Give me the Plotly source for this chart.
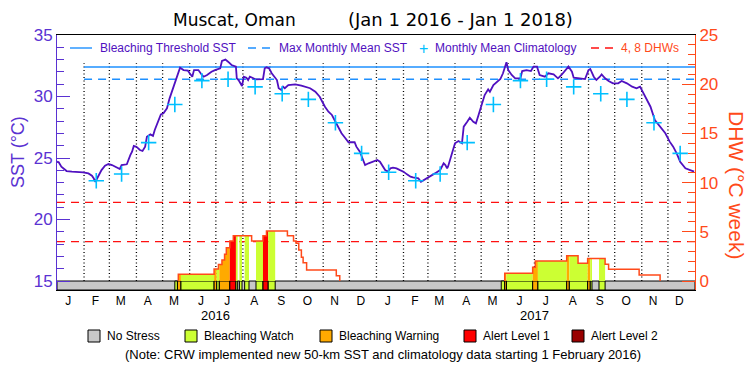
import pandas as pd
import plotly.graph_objects as go

# ---------------- data ----------------
title_place = "Muscat, Oman"
title_period = "(Jan 1 2016 - Jan 1 2018)"
month_letters = ["J", "F", "M", "A", "M", "J", "J", "A", "S", "O", "N", "D"]
year_labels = ["2016", "2017"]

# daily SST (days since 2016-01-01), degC
sst_day = [0, 2, 5, 11, 17, 26, 30, 36, 40, 42,
           44, 47, 51, 55, 59, 63, 68, 72, 74, 80,
           84, 86, 88, 91, 95, 98, 101, 103, 107, 110,
           112, 116, 119, 122, 126, 129, 133, 137, 141, 145,
           150, 152, 155, 157, 162, 166, 168, 172, 177, 181,
           187, 189, 193, 196, 200, 205, 206, 208, 210, 212,
           214, 217, 219, 221, 225, 227, 236, 238, 240, 243,
           246, 250, 252, 254, 257, 259, 261, 265, 273, 280,
           284, 290, 296, 301, 307, 311, 315, 318, 322, 326,
           330, 334, 341, 343, 347, 350, 353, 357, 361, 364,
           367, 370, 372, 376, 379, 382, 385, 389, 393, 397,
           401, 405, 408, 414, 417, 420, 424, 427, 433, 439,
           443, 445, 447, 448, 450, 452, 456, 460, 464, 466,
           470, 473, 477, 480, 483, 487, 490, 494, 496, 500,
           504, 508, 511, 513, 515, 517, 521, 525, 531, 533,
           538, 543, 546, 550, 553, 559, 563, 569, 574, 578,
           584, 586, 590, 592, 599, 605, 609, 611, 615, 618,
           622, 624, 628, 632, 637, 643, 647, 653, 659, 664,
           668, 672, 676, 680, 685, 691, 697, 702, 706, 710,
           714, 720, 725, 730]
sst_val = [24.70, 24.65, 24.29, 23.94, 23.89, 23.89, 23.84, 23.75, 23.56, 23.35,
           23.07, 23.48, 24.02, 24.37, 24.51, 24.43, 24.24, 24.11, 24.43, 24.49,
           25.24, 25.51, 25.98, 25.92, 25.65, 25.57, 25.92, 26.73, 26.92, 26.79,
           27.28, 27.95, 28.55, 28.63, 29.04, 29.85, 30.67, 31.48, 32.34, 32.15,
           32.10, 31.89, 31.61, 32.15, 32.15, 31.75, 31.61, 31.75, 32.02, 32.15,
           32.29, 32.89, 33.00, 32.83, 32.56, 32.43, 31.48, 31.34, 31.07, 30.85,
           31.61, 31.53, 31.34, 31.61, 31.48, 31.40, 31.42, 32.29, 32.37, 32.29,
           31.89, 31.48, 31.34, 30.67, 30.53, 30.80, 30.67, 30.93, 30.99, 30.88,
           30.80, 30.67, 30.39, 29.98, 29.17, 28.76, 28.50, 28.09, 27.55, 27.01,
           26.65, 26.28, 26.28, 25.92, 25.51, 24.97, 24.43, 24.57, 24.70, 24.76,
           24.84, 24.70, 24.43, 24.02, 23.89, 24.16, 24.21, 24.16, 24.02, 23.89,
           23.67, 23.48, 23.43, 23.35, 23.07, 23.21, 23.35, 23.48, 23.75, 24.02,
           24.57, 24.43, 24.16, 24.29, 24.84, 25.24, 26.20, 26.38, 26.20, 27.55,
           27.95, 28.28, 27.95, 27.82, 28.50, 29.45, 30.12, 30.58, 30.39, 30.93,
           31.20, 31.42, 31.89, 32.29, 32.78, 32.15, 31.75, 31.48, 31.48, 32.07,
           32.15, 32.07, 32.43, 32.43, 31.75, 31.61, 31.89, 31.80, 31.48, 31.75,
           32.29, 32.43, 32.02, 31.53, 31.48, 31.42, 32.15, 32.24, 31.61, 31.34,
           31.61, 31.80, 31.48, 31.26, 31.07, 31.07, 31.26, 31.07, 30.80, 30.67,
           30.80, 30.26, 29.72, 29.17, 28.09, 27.55, 27.01, 26.33, 25.92, 25.38,
           24.70, 24.16, 24.02, 23.89]

# monthly mean climatology, Jan..Dec
clim_val = [23.84, 23.15, 23.70, 26.25, 29.35, 31.29, 31.40, 30.78, 30.23, 29.77, 27.87, 25.38]
clim_months = [(2016, m) for m in range(2, 13)] + [(2017, m) for m in range(1, 13)]

mmm_sst = 31.4
threshold_sst = 32.4
clim_start_day = 31      # new climatology from 1 Feb 2016

# degree heating weeks, step changes (days since 2016-01-01)
dhw_day = [0, 139, 180, 185, 189, 192, 194, 198, 202, 223, 236, 240, 264, 271, 274,
           277, 280, 282, 286, 320, 324, 513, 545, 548, 584, 597, 608, 628, 632, 667, 691]
dhw_val = [0, 0.68, 1.22, 1.69, 2.13, 2.71, 3.39, 4.07, 4.60, 4.07, 4.60, 5.08, 4.60, 4.07, 3.83,
           3.15, 2.41, 1.86, 1.12, 0.54, 0, 0.78, 1.39, 2.03, 2.57, 1.80, 2.30, 1.70, 1.19, 0.61, 0]
dhw_levels = [4, 8]

# bleaching stress periods: start day, end day, level (1 watch, 2 warning, 3 alert 1)
stress_start = [135, 138, 142, 180, 183, 186, 198, 205, 209, 215, 228, 236, 242,
                509, 513, 515, 545, 551, 584, 587, 608, 611, 621]
stress_end = [138, 142, 180, 183, 186, 198, 205, 207, 212, 220, 236, 242, 250,
              513, 515, 545, 551, 584, 587, 608, 611, 613, 628]
stress_level = [1, 2, 1, 2, 1, 2, 3, 1, 1, 1, 1, 3, 1,
                1, 2, 1, 2, 1, 2, 1, 2, 1, 1]

stress_names = ["No Stress", "Bleaching Watch", "Bleaching Warning", "Alert Level 1", "Alert Level 2"]
stress_colors = ["#C8C8C8", "#CCFF33", "#FFAA00", "#FF0000", "#990000"]

# ---------------- styling / geometry ----------------
FONT = "Liberation Sans"
WIDE = "DejaVu Sans"
PURPLE_TXT = "#5A32D2"
PURPLE_LINE = "#5010C0"
ORANGE = "#FF4A1A"
BLUE = "#1E90FF"
CYAN = "#00BFFF"

W, H = 750, 375
ML, MR, MT, MB = 57, 55, 35, 85
PW, PH = W - ML - MR, H - MT - MB

SST_LO, SST_HI = 14.27, 35.0
DHW_HI = 25.0
DHW_LO = -(15 - SST_LO) * DHW_HI / (SST_HI - 15)

T0 = pd.Timestamp("2016-01-01")
T1 = pd.Timestamp("2018-01-01")


def day2t(d):
    return T0 + pd.Timedelta(days=float(d))


def px(x):
    return (x - ML) / PW


def py(y):
    return (H - MB - y) / PH


def dhw_at(t):
    v = 0
    for d, val in zip(dhw_day, dhw_val):
        if d <= t:
            v = val
    return v


def note(text, x, y, size, color, xanchor="center", angle=0, family=FONT):
    return dict(text=text, x=x, y=y, xref="paper", yref="paper", xanchor=xanchor, yanchor="middle",
                textangle=angle, showarrow=False, font=dict(size=size, color=color, family=family))


fig = go.Figure()

# stress strip background
end_day = (T1 - T0).days
fig.add_trace(go.Scatter(
    x=[day2t(d) for d in [0, end_day, end_day, 0, 0]],
    y=[SST_LO, SST_LO, 15, 15, SST_LO], mode="lines", fill="toself",
    fillcolor=stress_colors[0], line=dict(color="black", width=1),
    hoverinfo="skip", showlegend=False))

# stress strip segments
for s, e, lv in zip(stress_start, stress_end, stress_level):
    fig.add_trace(go.Scatter(
        x=[day2t(d) for d in [s, e, e, s, s]],
        y=[SST_LO, SST_LO, 15, 15, SST_LO], mode="lines", fill="toself",
        fillcolor=stress_colors[lv], line=dict(color="black", width=1),
        hoverinfo="skip", showlegend=False))

# MMM and bleaching threshold
fig.add_trace(go.Scatter(x=[day2t(clim_start_day), T1], y=[mmm_sst, mmm_sst], mode="lines",
                         line=dict(color=BLUE, width=1.4, dash="8px,6px"), showlegend=False))
fig.add_trace(go.Scatter(x=[day2t(clim_start_day), T1], y=[threshold_sst, threshold_sst], mode="lines",
                         line=dict(color=BLUE, width=1.4), showlegend=False))

# SST
fig.add_trace(go.Scatter(x=[day2t(d) for d in sst_day], y=sst_val, mode="lines",
                         line=dict(color=PURPLE_LINE, width=1.8), showlegend=False))

# climatology crosses
fig.add_trace(go.Scatter(
    x=[pd.Timestamp(y, m, 15) for y, m in clim_months],
    y=[clim_val[m - 1] for y, m in clim_months], mode="markers",
    marker=dict(symbol="cross-thin-open", size=11, color=CYAN, line=dict(color=CYAN, width=1.6)),
    showlegend=False))

# DHW reference lines
for lv in dhw_levels:
    fig.add_trace(go.Scatter(x=[T0, T1], y=[lv, lv], mode="lines", yaxis="y2",
                             line=dict(color="#FF1010", width=1.3, dash="8px,6px"), showlegend=False))

# stress-coloured fills under the DHW curve
for s, e, lv in zip(stress_start, stress_end, stress_level):
    xs, ys = [s, s], [0, dhw_at(s)]
    for d in dhw_day:
        if s < d < e:
            xs += [d, d]
            ys += [dhw_at(d - 1e-6), dhw_at(d)]
    xs += [e, e, s]
    ys += [dhw_at(e - 1e-6), 0, 0]
    fig.add_trace(go.Scatter(x=[day2t(d) for d in xs], y=ys, mode="lines", yaxis="y2",
                             fill="toself", fillcolor=stress_colors[lv], line=dict(width=0),
                             hoverinfo="skip", showlegend=False))

# DHW step line
lx, ly = [], []
prev = 0
for d, v in zip(dhw_day, dhw_val):
    if v == prev:
        continue
    if prev == 0 and lx:
        lx.append(None)
        ly.append(None)
    lx += [day2t(d), day2t(d)]
    ly += [prev, v]
    prev = v
fig.add_trace(go.Scatter(x=lx, y=ly, mode="lines", yaxis="y2",
                         line=dict(color=ORANGE, width=1.5), showlegend=False))

# dotted month separators
shapes = []
for y in (2016, 2017):
    for m in range(1, 13):
        t = pd.Timestamp(y, m, 1)
        if t == T0:
            continue
        shapes.append(dict(type="line", xref="x", yref="y", x0=t, x1=t, y0=15, y1=32.7,
                           line=dict(color="black", width=1.3, dash="1px,2.5px"), layer="below"))

# top legend
LY = py(48)
shapes.append(dict(type="line", xref="paper", yref="paper", x0=px(70), x1=px(92), y0=LY, y1=LY,
                   line=dict(color=BLUE, width=1.4)))
shapes.append(dict(type="line", xref="paper", yref="paper", x0=px(248), x1=px(271), y0=LY, y1=LY,
                   line=dict(color=BLUE, width=1.4, dash="8px,6px")))
shapes.append(dict(type="line", xref="paper", yref="paper", x0=px(591), x1=px(614), y0=LY, y1=LY,
                   line=dict(color="#FF1010", width=1.3, dash="8px,6px")))

annotations = [
    note(title_place, px(234), py(20), 17, "black", family=WIDE),
    note(title_period, px(460), py(20), 18, "black", family=WIDE),
    note("Bleaching Threshold SST", px(98), LY, 12, PURPLE_LINE, "left"),
    note("Max Monthly Mean SST", px(277), LY, 12, PURPLE_LINE, "left"),
    note("+", px(423), LY, 16, CYAN),
    note("Monthly Mean Climatology", px(433), LY, 12, PURPLE_LINE, "left"),
    note("4, 8 DHWs", px(619), LY, 12, ORANGE, "left"),
    note("SST (\u00b0C)", px(18), py(152), 18, PURPLE_TXT, "center", -90),
    note("DHW (\u00b0C week)", px(737), py(185), 21, ORANGE, "center", 90),
    note("(Note: CRW implemented new 50-km SST and climatology data starting 1 February 2016)",
         px(383), py(354), 13, "black"),
]
for i, yl in enumerate(year_labels):
    annotations.append(dict(text=yl, x=pd.Timestamp(int(yl), 7, 1), y=py(315), xref="x", yref="paper",
                            xanchor="center", yanchor="middle", showarrow=False,
                            font=dict(size=13, color="black", family=FONT)))

# bottom legend
box_x = [88, 185, 320, 464, 572]
for bx, name, col in zip(box_x, stress_names, stress_colors):
    shapes.append(dict(type="rect", xref="paper", yref="paper", x0=px(bx), x1=px(bx + 12),
                       y0=py(342), y1=py(330), fillcolor=col, line=dict(color="black", width=1)))
    annotations.append(note(name, px(bx + 17), py(336), 12, "black", "left"))

tickvals = [pd.Timestamp(y, m, 14) for y in (2016, 2017) for m in range(1, 13)]
ticktext = month_letters * 2

fig.update_layout(
    width=W, height=H, margin=dict(l=ML, r=MR, t=MT, b=MB, autoexpand=False),
    paper_bgcolor="white", plot_bgcolor="white",
    font=dict(family=FONT),
    showlegend=False,
    shapes=shapes, annotations=annotations,
    xaxis=dict(type="date", range=[T0, T1], tickvals=tickvals, ticktext=ticktext, ticks="",
               showgrid=False, zeroline=False, showline=True, mirror=True, linecolor="black",
               linewidth=1, tickfont=dict(size=12, color="black", family=FONT), tickangle=0,
               ticklabelstandoff=0),
    yaxis=dict(range=[SST_LO, SST_HI], tickvals=[15, 20, 25, 30, 35], ticks="inside", ticklen=13,
               tickcolor=PURPLE_TXT, tickwidth=1, showgrid=False, zeroline=False, showline=True,
               linecolor=PURPLE_TXT, linewidth=1, tickfont=dict(size=17, color=PURPLE_TXT, family=FONT),
               minor=dict(tickvals=[v for v in range(16, 35) if v % 5], ticks="inside", ticklen=7,
                          tickcolor=PURPLE_TXT, showgrid=False)),
    yaxis2=dict(range=[DHW_LO, DHW_HI], overlaying="y", side="right", tickvals=[0, 5, 10, 15, 20, 25],
                ticks="inside", ticklen=13, tickcolor=ORANGE, tickwidth=1, showgrid=False,
                zeroline=False, showline=True, linecolor=ORANGE, linewidth=1,
                tickfont=dict(size=17, color=ORANGE, family=FONT),
                minor=dict(tickvals=[v for v in range(1, 25) if v % 5], ticks="inside", ticklen=7,
                           tickcolor=ORANGE, showgrid=False)),
)

fig.write_html("out.html", config={"displayModeBar": False},
               post_script="document.body.style.margin='0px';")
